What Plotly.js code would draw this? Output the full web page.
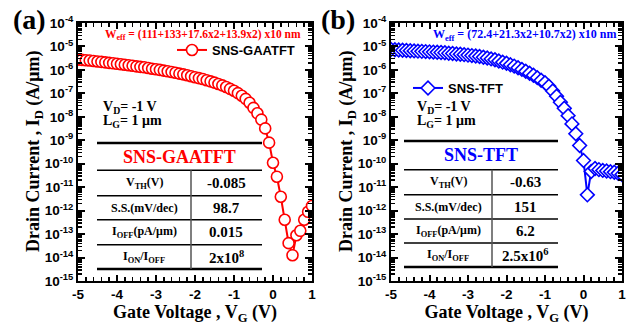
<!DOCTYPE html>
<html><head><meta charset="utf-8">
<script src="https://cdn.plot.ly/plotly-3.0.1.min.js"></script>
<style>html,body{margin:0;padding:0;background:#fff}#chart{width:633px;height:326px}</style>
</head><body><div id="chart"></div>
<script>
// ---- data ----
const vg = [-5.0,-4.9,-4.8,-4.7,-4.6,-4.5,-4.4,-4.3,-4.2,-4.1,-4.0,-3.9,-3.8,-3.7,-3.6,-3.5,-3.4,-3.3,-3.2,-3.1,
  -3.0,-2.9,-2.8,-2.7,-2.6,-2.5,-2.4,-2.3,-2.2,-2.1,-2.0,-1.9,-1.8,-1.7,-1.6,-1.5,-1.4,-1.3,-1.2,-1.1,
  -1.0,-0.9,-0.8,-0.7,-0.6,-0.5,-0.4,-0.3,-0.2,-0.1,0.0,0.1,0.2,0.3,0.4,0.5,0.6,0.7,0.8,0.9,1.0];
const idGAA = [2.75e-6,2.69e-6,2.57e-6,2.51e-6,2.40e-6,2.29e-6,2.19e-6,2.09e-6,2.00e-6,1.91e-6,
  1.82e-6,1.74e-6,1.66e-6,1.58e-6,1.51e-6,1.41e-6,1.35e-6,1.29e-6,1.20e-6,1.12e-6,
  1.07e-6,1.00e-6,9.33e-7,8.71e-7,8.13e-7,7.59e-7,6.92e-7,6.46e-7,5.89e-7,5.37e-7,
  4.90e-7,4.47e-7,4.07e-7,3.63e-7,3.24e-7,2.88e-7,2.51e-7,2.19e-7,1.86e-7,1.55e-7,
  1.29e-7,1.02e-7,7.9e-8,5.8e-8,4.0e-8,2.4e-8,1.41e-8,7.6e-9,3.2e-9,7.9e-10,
  1.1e-10,2.8e-11,3.9e-12,4.1e-13,4.1e-14,1.26e-14,8.9e-14,1.38e-13,4.1e-13,8.9e-13,1.58e-12];
const idTFT = [7.41e-6,7.24e-6,7.08e-6,6.92e-6,6.76e-6,6.61e-6,6.46e-6,6.31e-6,6.17e-6,6.03e-6,
  5.89e-6,5.75e-6,5.62e-6,5.50e-6,5.37e-6,5.13e-6,5.01e-6,4.79e-6,4.68e-6,4.47e-6,
  4.27e-6,4.07e-6,3.89e-6,3.72e-6,3.47e-6,3.24e-6,2.95e-6,2.69e-6,2.40e-6,2.14e-6,
  1.91e-6,1.66e-6,1.45e-6,1.23e-6,1.05e-6,8.71e-7,7.24e-7,5.89e-7,4.68e-7,3.63e-7,
  2.82e-7,2.00e-7,1.26e-7,7.6e-8,4.2e-8,2.3e-8,1.12e-8,5.0e-9,1.9e-9,6.0e-10,
  1.38e-10,4.7e-12,4.7e-11,6.3e-11,5.6e-11,5.2e-11,4.9e-11,4.6e-11,4.3e-11,3.9e-11,3.5e-11];
const seriesNames = ['SNS-GAATFT','SNS-TFT'];
const xTickVals = [-5,-4,-3,-2,-1,0,1];
const xTickText = ['-5','-4','-3','-2','-1','0','1'];
const yTickVals = [1e-15,1e-14,1e-13,1e-12,1e-11,1e-10,1e-9,1e-8,1e-7,1e-6,1e-5,1e-4];
const yTickText = ['10<sup>-15</sup>','10<sup>-14</sup>','10<sup>-13</sup>','10<sup>-12</sup>','10<sup>-11</sup>','10<sup>-10</sup>',
  '10<sup>-9</sup>','10<sup>-8</sup>','10<sup>-7</sup>','10<sup>-6</sup>','10<sup>-5</sup>','10<sup>-4</sup>'];
const xTitle = 'Gate Voltage , V<sub>G</sub> (V)';
const yTitle = 'Drain Current , I<sub>D</sub> (A/μm)';
const tableLabels = ['V<sub>TH</sub>(V)','S.S.(mV/dec)','I<sub>OFF</sub>(pA/μm)','I<sub>ON</sub>/I<sub>OFF</sub>'];
const gaaValues = ['-0.085','98.7','0.015','2x10<sup>8</sup>'];
const tftValues = ['-0.63','151','6.2','2.5x10<sup>6</sup>'];
const weffGAA = 'W<sub>eff</sub> = (111+133+17.6x2+13.9x2) x10 nm';
const weffTFT = 'W<sub>eff</sub> = (72.4+21.3x2+10.7x2) x10 nm';
const condVD = 'V<sub>D</sub>= -1 V';
const condLG = 'L<sub>G</sub>= 1 μm';

// ---- layout helpers ----
const W = 633, H = 326;
const px = x => x / W;
const py = y => 1 - y / H;
const RED = '#ff0000', BLUE = '#0000ff';
const SERIF = 'Liberation Serif', SANS = 'Liberation Sans';

const traces = [
  {x: vg, y: idGAA, name: seriesNames[0], type: 'scatter', mode: 'lines+markers', xaxis: 'x', yaxis: 'y', legend: 'legend',
   line: {color: RED, width: 2}, marker: {symbol: 'circle', size: 11, color: 'white', line: {color: RED, width: 1.6}}},
  {x: vg, y: idTFT, name: seriesNames[1], type: 'scatter', mode: 'lines+markers', xaxis: 'x2', yaxis: 'y2', legend: 'legend2',
   line: {color: BLUE, width: 2}, marker: {symbol: 'diamond', size: 10.5, color: 'white', line: {color: BLUE, width: 1.6}}}
];

function xAxis(domain, anchor) {
  return {domain: domain, anchor: anchor, range: [-5, 1], tickmode: 'array', tickvals: xTickVals, ticktext: xTickText,
    ticks: 'inside', ticklen: 6, tickwidth: 2, tickcolor: 'black', showline: true, linewidth: 2, linecolor: 'black', mirror: 'allticks',
    showgrid: false, zeroline: false, automargin: false,
    minor: {dtick: 0.2, ticks: 'inside', ticklen: 4, tickwidth: 1.6, tickcolor: 'black', showgrid: false},
    tickfont: {family: SANS, size: 13.5, weight: 700, color: 'black'},
    title: {text: xTitle, font: {family: SERIF, size: 18, weight: 700, color: 'black'}, standoff: 2}};
}
function yAxis(anchor) {
  return {domain: [py(281), py(23)], anchor: anchor, type: 'log', range: [-15, -4], tickmode: 'array', tickvals: yTickVals, ticktext: yTickText,
    ticks: 'inside', ticklen: 7, tickwidth: 2, tickcolor: 'black', showline: true, linewidth: 2, linecolor: 'black', mirror: 'allticks',
    showgrid: false, zeroline: false, automargin: false,
    minor: {dtick: 'D1', ticks: 'inside', ticklen: 4, tickwidth: 1.4, tickcolor: 'black', showgrid: false},
    tickfont: {family: SANS, size: 13.5, weight: 700, color: 'black'},
    title: {text: ''}};
}

const annotations = [];
const shapes = [];
function ann(text, x, y, size, color, family, xanchor, angle) {
  annotations.push({text: text, x: px(x), y: py(y), xref: 'paper', yref: 'paper', showarrow: false, textangle: angle || 0,
    xanchor: xanchor || 'center', yanchor: 'middle', font: {family: family || SERIF, size: size, weight: 700, color: color || 'black'}});
}
function hline(x0, x1, y, w, c) {
  shapes.push({type: 'line', xref: 'paper', yref: 'paper', x0: px(x0), x1: px(x1), y0: py(y), y1: py(y), line: {color: c || 'black', width: w}});
}
function vline(x, y0, y1, w, c) {
  shapes.push({type: 'line', xref: 'paper', yref: 'paper', x0: px(x), x1: px(x), y0: py(y0), y1: py(y1), line: {color: c || 'black', width: w}});
}
function table(cfg) {
  const rows = cfg.rows;
  hline(cfg.x0, cfg.x1, cfg.top, 2.5);
  ann(cfg.title, (cfg.x0 + cfg.x1) / 2, (cfg.top + rows[0]) / 2, 18, cfg.color);
  for (let i = 0; i < rows.length; i++) hline(cfg.x0, cfg.x1, rows[i], i === rows.length - 1 ? 2.5 : 1.5);
  vline(cfg.xm, rows[0], rows[rows.length - 1], 1.5, '#555');
  for (let i = 0; i < tableLabels.length; i++) {
    const yc = (rows[i] + rows[i + 1]) / 2;
    ann(tableLabels[i], (cfg.x0 + cfg.xm) / 2, yc, 12);
    ann(cfg.values[i], (cfg.xm + cfg.x1) / 2, yc, 15);
  }
}

// y-axis titles (rotated)
ann(yTitle, 34, 152, 18, 'black', SERIF, 'center', -90);
ann(yTitle, 347, 152, 18, 'black', SERIF, 'center', -90);
// panel (a)
ann('(a)', 29, 20, 28);
ann(weffGAA, 303, 35, 11.5, RED, SERIF, 'right');
ann(condVD, 101, 108, 14, 'black', SERIF, 'left');
ann(condLG, 101, 121, 14, 'black', SERIF, 'left');
table({x0: 97, x1: 262, xm: 191, top: 143, rows: [170.3, 195.7, 219.7, 244.7, 269], title: seriesNames[0], color: RED, values: gaaValues});
// panel (b)
ann('(b)', 338, 20, 28);
ann(weffTFT, 618, 35, 12, BLUE, SERIF, 'right');
ann(condVD, 415, 108, 14, 'black', SERIF, 'left');
ann(condLG, 415, 121, 14, 'black', SERIF, 'left');
table({x0: 404, x1: 558, xm: 492, top: 141, rows: [169.7, 194.7, 219, 243, 267], title: seriesNames[1], color: BLUE, values: tftValues});

const legendBase = {xanchor: 'left', yanchor: 'middle', bgcolor: 'rgba(0,0,0,0)', borderwidth: 0, itemwidth: 30,
  font: {family: SANS, size: 13, weight: 700, color: 'black'}};

const layout = {
  width: W, height: H, margin: {l: 0, r: 0, t: 0, b: 0}, paper_bgcolor: 'white', plot_bgcolor: 'white',
  xaxis: xAxis([px(78), px(312)], 'y'),
  yaxis: yAxis('x'),
  xaxis2: xAxis([px(391), px(622)], 'y2'),
  yaxis2: yAxis('x2'),
  showlegend: true,
  legend: Object.assign({x: px(172), y: py(50)}, legendBase),
  legend2: Object.assign({x: px(408), y: py(88)}, legendBase),
  annotations: annotations,
  shapes: shapes
};

Plotly.newPlot('chart', traces, layout, {staticPlot: true, displayModeBar: false});
</script></body></html>
